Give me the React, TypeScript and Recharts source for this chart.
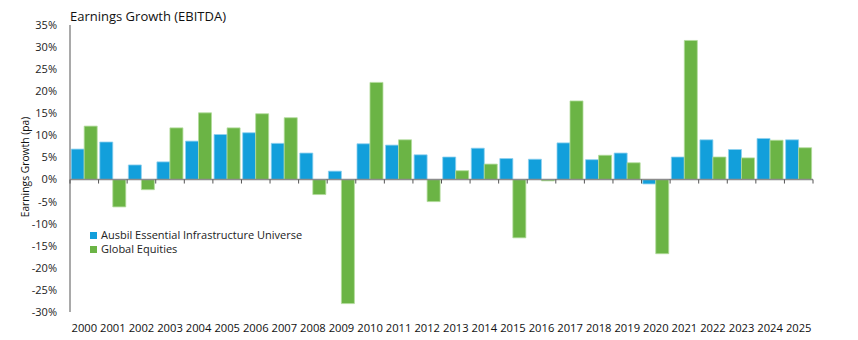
import React from 'react';
import { BarChart, Bar, XAxis, YAxis, ReferenceLine, Legend } from 'recharts';

const years = ['2000', '2001', '2002', '2003', '2004', '2005', '2006', '2007', '2008', '2009', '2010', '2011', '2012', '2013', '2014', '2015', '2016', '2017', '2018', '2019', '2020', '2021', '2022', '2023', '2024', '2025'];
const ausbilValues = [6.9, 8.5, 3.3, 4.0, 8.7, 10.2, 10.6, 8.2, 6.0, 1.9, 8.1, 7.8, 5.6, 5.1, 7.1, 4.75, 4.6, 8.3, 4.5, 6.0, -1.0, 5.1, 9.0, 6.8, 9.3, 9.0];
const globalValues = [12.1, -6.2, -2.3, 11.7, 15.1, 11.7, 14.9, 14.0, -3.4, -28.1, 22.0, 9.0, -5.0, 2.0, 3.5, -13.2, -0.3, 17.8, 5.5, 3.8, -16.8, 31.5, 5.1, 4.9, 8.9, 7.2];
const yTicks = [-30, -25, -20, -15, -10, -5, 0, 5, 10, 15, 20, 25, 30, 35];
const seriesNames = ['Ausbil Essential Infrastructure Universe', 'Global Equities'];
const titleText = 'Earnings Growth (EBITDA)';
const yAxisTitle = 'Earnings Growth (pa)';

const data = years.map((year, i) => ({ year, ausbil: ausbilValues[i], global: globalValues[i] }));

const W = 858;
const H = 340;
const MARGIN = { top: 25, right: 45, bottom: 8, left: 0 };
const Y_AXIS_W = 70;
const X_AXIS_H = 20;
const PLOT_TOP = MARGIN.top;
const PLOT_H = H - MARGIN.top - MARGIN.bottom - X_AXIS_H;
const PLOT_W = W - MARGIN.left - MARGIN.right - Y_AXIS_W;
const Y_MIN = yTicks[0];
const Y_MAX = yTicks[yTicks.length - 1];

const BLUE = '#129fdb';
const GREEN = '#6bb445';
const AXIS = '#8c8c8c';
const FONT = '"Open Sans", sans-serif';

const XTick = (props: any) => {
  const { x, y, payload, index } = props;
  const band = PLOT_W / years.length;
  const zeroY = PLOT_TOP + PLOT_H * (Y_MAX / (Y_MAX - Y_MIN));
  return (
    <g>
      <line x1={x - band / 2} x2={x - band / 2} y1={zeroY} y2={zeroY + 4} stroke="#555" strokeWidth={1} />
      {index === years.length - 1 && (
        <line x1={x + band / 2} x2={x + band / 2} y1={zeroY} y2={zeroY + 4} stroke="#555" strokeWidth={1} />
      )}
      <text x={x} y={y} dy={12} textAnchor="middle" fill="#111" fontSize={11.2} fontFamily={FONT}>
        {payload.value}
      </text>
    </g>
  );
};

const LegendContent = () => (
  <div style={{ fontFamily: FONT, fontSize: 11, lineHeight: '14px', color: '#222' }}>
    {seriesNames.map((name, i) => (
      <div key={name} style={{ display: 'flex', alignItems: 'center', height: 14 }}>
        <span style={{ display: 'inline-block', width: 7, height: 7, background: i === 0 ? BLUE : GREEN, marginRight: 4 }} />
        <span>{name}</span>
      </div>
    ))}
  </div>
);

export default function App() {
  return (
    <div style={{ position: 'absolute', left: 0, top: 0, width: W, height: H, background: '#fff' }}>
      <div style={{ position: 'absolute', left: 70, top: 7, fontFamily: FONT, fontSize: 13, color: '#111', whiteSpace: 'nowrap' }}>
        {titleText}
      </div>
      <div
        style={{
          position: 'absolute',
          left: 25,
          top: 167,
          transform: 'translate(-50%, -50%) rotate(-90deg)',
          fontFamily: FONT,
          fontSize: 10.3,
          lineHeight: '12px',
          color: '#111',
          whiteSpace: 'nowrap',
        }}
      >
        {yAxisTitle}
      </div>
      <BarChart width={W} height={H} data={data} margin={MARGIN} barCategoryGap={1.2} barGap={0}>
        <XAxis
          dataKey="year"
          height={X_AXIS_H}
          axisLine={false}
          tickLine={false}
          interval={0}
          tick={<XTick />}
        />
        <YAxis
          width={Y_AXIS_W}
          domain={[Y_MIN, Y_MAX]}
          ticks={yTicks}
          interval={0}
          tickFormatter={(v: number) => `${v}%`}
          tickLine={false}
          axisLine={{ stroke: AXIS, strokeWidth: 1.5 }}
          tick={{ fill: '#222', fontSize: 11, fontFamily: FONT }}
          tickMargin={7}
        />
        <Bar dataKey="ausbil" name={seriesNames[0]} fill={BLUE} stroke="#8fd1ef" strokeWidth={0.8} isAnimationActive={false} />
        <Bar dataKey="global" name={seriesNames[1]} fill={GREEN} stroke="#b2dc9c" strokeWidth={0.8} isAnimationActive={false} />
        <ReferenceLine y={0} stroke={AXIS} strokeWidth={1.5} />
        <Legend
          layout="vertical"
          verticalAlign="middle"
          align="center"
          content={<LegendContent />}
          wrapperStyle={{ left: 90, top: 228, width: 240 }}
        />
      </BarChart>
    </div>
  );
}
